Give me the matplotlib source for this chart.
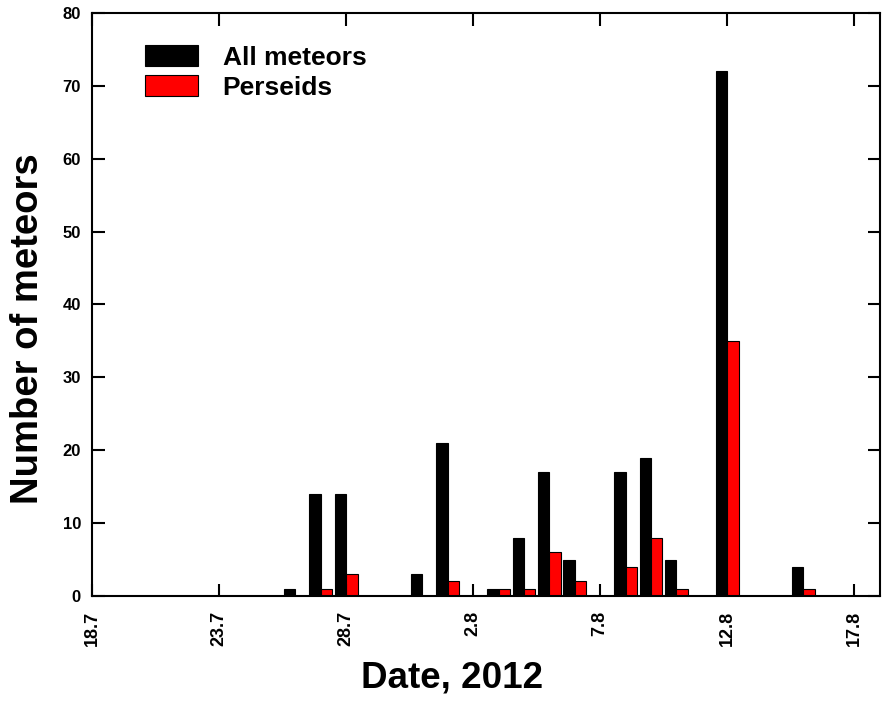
import matplotlib
matplotlib.use('Agg')
import matplotlib.pyplot as plt
import pandas as pd

# meteor counts per night, summer 2012
dates = ['26.7', '27.7', '28.7', '31.7', '1.8', '3.8', '4.8', '5.8',
         '6.8', '8.8', '9.8', '10.8', '12.8', '15.8']
all_meteors = [1, 14, 14, 3, 21, 1, 8, 17, 5, 17, 19, 5, 72, 4]
perseids = [0, 1, 3, 0, 2, 1, 1, 6, 2, 4, 8, 1, 35, 1]
tick_dates = ['18.7', '23.7', '28.7', '2.8', '7.8', '12.8', '17.8']

plt.rcParams['font.family'] = ['Liberation Sans', 'DejaVu Sans']
plt.rcParams['font.weight'] = 'bold'


def day_number(labels):
    d = pd.to_datetime([s + '.2012' for s in labels], format='%d.%m.%Y')
    return (d - pd.Timestamp('2012-07-18')).days.values


x = day_number(dates)
xt = day_number(tick_dates)

fig = plt.figure(figsize=(8.85, 7.05), dpi=100)
ax = fig.add_axes([0.104, 0.1546, 0.89, 0.827])

w = 0.45
ax.bar(x - w / 2, all_meteors, width=w, color='black', edgecolor='black',
       linewidth=0.8, label='All meteors')
ax.bar(x + w / 2, perseids, width=w, color='#ff0000', edgecolor='black',
       linewidth=0.8, label='Perseids')

ax.set_xlim(0, 31)
ax.set_ylim(0, 80)
ax.set_xticks(xt)
ax.set_xticklabels(tick_dates, rotation=90, fontsize=13, fontweight='bold')
ax.set_yticks(range(0, 81, 10))
ax.set_yticklabels([str(v) for v in range(0, 81, 10)], fontsize=12,
                   fontweight='bold')
ax.tick_params(direction='in', length=9, width=1.5, top=True, right=True)
ax.tick_params(axis='x', pad=11)
ax.tick_params(axis='y', pad=8)
for s in ax.spines.values():
    s.set_linewidth(1.5)

ax.set_xlabel('Date, 2012', fontsize=26.5, fontweight='bold')
ax.set_ylabel('Number of meteors', fontsize=27.5, fontweight='bold')
ax.xaxis.set_label_coords(0.457, -0.11)
ax.yaxis.set_label_coords(-0.058, 0.458)

ax.legend(loc='upper left', bbox_to_anchor=(0.067, 0.945), frameon=False,
          borderpad=0, borderaxespad=0, handlelength=2.0,
          handleheight=0.85, handletextpad=0.95, labelspacing=0.2,
          prop={'weight': 'bold', 'size': 19})

fig.savefig('out.png', dpi=100)
